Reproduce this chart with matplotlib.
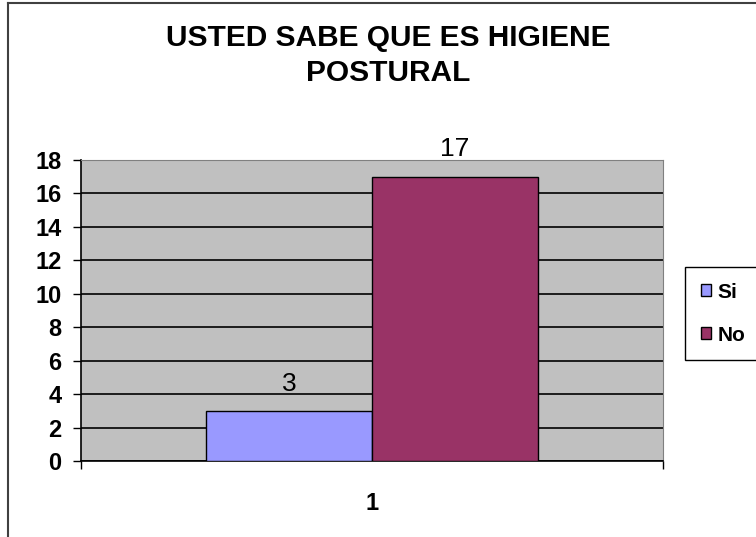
import numpy as np
import matplotlib
matplotlib.use('Agg')
import matplotlib.pyplot as plt
from matplotlib.lines import Line2D

# データ
categories = ['1']
series_names = ['Si', 'No']
series_values = [[3], [17]]
series_colors = ['#9999ff', '#993366']
title = 'USTED SABE QUE ES HIGIENE\nPOSTURAL'
yticks = [0, 2, 4, 6, 8, 10, 12, 14, 16, 18]

plt.rcParams['font.family'] = ['Liberation Sans', 'DejaVu Sans']

fig = plt.figure(figsize=(7.56, 5.37), dpi=100)
ax = fig.add_axes([81/756, 1-461/537, (663-81)/756, (461-160)/537])
ax.set_facecolor('#c0c0c0')

x = np.arange(1, len(categories) + 1)
width = 0.285
for i, (name, vals, col) in enumerate(zip(series_names, series_values, series_colors)):
    pos = x + (i - 0.5) * width
    ax.bar(pos, vals, width=width, color=col, edgecolor='black', linewidth=1, label=name, zorder=3)
    for px, v in zip(pos, vals):
        ax.annotate(str(v), (px, v), xytext=(0, 11), textcoords='offset points',
                    ha='center', va='bottom', fontsize=19)

ax.set_ylim(0, 18)
ax.set_xlim(0.5, len(categories) + 0.5)
ax.set_yticks(yticks)
ax.set_yticklabels([str(t) for t in yticks], fontsize=17, fontweight='bold')
ax.yaxis.grid(True, color='black', linewidth=1.2, zorder=1)
ax.set_axisbelow(True)

# カテゴリ軸: 境界に目盛、中央にラベル
ax.set_xticks(np.arange(0.5, len(categories) + 1, 1.0))
ax.set_xticklabels([])
ax.set_xticks(x, minor=True)
ax.set_xticklabels(categories, minor=True, fontsize=17, fontweight='bold')
ax.tick_params(axis='x', which='major', length=6, width=1, direction='out')
ax.tick_params(axis='x', which='minor', length=0, pad=22)
ax.tick_params(axis='y', length=6, width=1, direction='out', pad=8)

for s in ['top', 'right']:
    ax.spines[s].set_color('#808080')
for s in ['left', 'bottom']:
    ax.spines[s].set_color('black')
    ax.spines[s].set_linewidth(1.2)

fig.text(388/756, 1-24/537, title, ha='center', va='top', fontsize=21.5,
         fontweight='bold', linespacing=1.3)

leg = ax.legend(loc='upper left', bbox_to_anchor=(685/756, 1-267/537),
                bbox_transform=fig.transFigure, fancybox=False, framealpha=1,
                edgecolor='black', prop={'size': 15, 'weight': 'bold'},
                handlelength=0.5, handleheight=0.5, handletextpad=0.3,
                labelspacing=1.15, borderpad=0.75, borderaxespad=0)
leg.get_frame().set_linewidth(1)

# 外枠
fig.add_artist(Line2D([8/756, 8/756], [0, 1-3/537], color='#404040', linewidth=1.5,
                      transform=fig.transFigure))
fig.add_artist(Line2D([8/756, 1], [1-3/537, 1-3/537], color='#404040', linewidth=1.5,
                      transform=fig.transFigure))

fig.savefig('out.png', dpi=100)
